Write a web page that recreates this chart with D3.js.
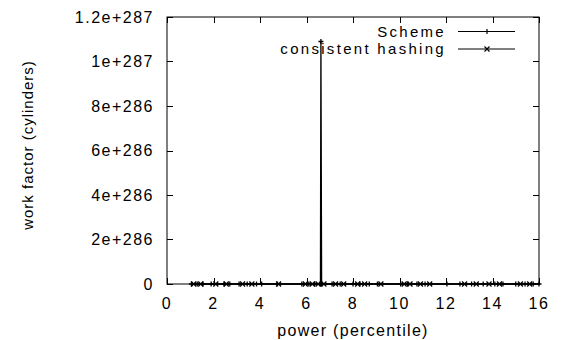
<!DOCTYPE html>
<html>
<head>
<meta charset="utf-8">
<script src="https://cdn.jsdelivr.net/npm/d3@7"></script>
<style>
  body { margin: 0; background: #fff; }
  text { font-family: "Liberation Sans", Arial, sans-serif; fill: #000; }
</style>
</head>
<body>
<svg id="chart" width="563" height="340"></svg>
<script>
// values
const xTicks = [0, 2, 4, 6, 8, 10, 12, 14, 16];
const yTicks = [0, 2e286, 4e286, 6e286, 8e286, 1e287, 1.2e287];

const schemeX = [1.05, 1.3, 1.55, 1.9, 2.45, 2.7, 3.1, 3.45, 3.85, 4.07, 4.75, 5.8, 6.1, 6.35, 6.6, 6.62, 6.65,
  7.1, 7.45, 8.0, 8.3, 8.7, 9.05, 10.05, 10.35, 10.75, 11.1, 12.04, 12.6, 13.1, 13.6, 14.1, 14.45, 15.0, 15.4, 15.75, 16.0];
const schemeY = [0, 0, 0, 0, 0, 0, 0, 0, 0, 0, 0, 0, 0, 0, 0, 1.09e287, 0,
  0, 0, 0, 0, 0, 0, 0, 0, 0, 0, 0, 0, 0, 0, 0, 0, 0, 0, 0, 0];

const hashX = [1.15, 1.45, 2.1, 2.55, 3.25, 3.65, 4.8, 5.95, 6.25, 6.5, 6.75, 7.25, 7.6, 8.2, 8.5, 9.2,
  10.2, 10.45, 10.9, 11.3, 12.8, 13.3, 13.85, 14.3, 15.2, 15.6];
const hashY = [0, 0, 0, 0, 0, 0, 0, 0, 0, 0, 0, 0, 0, 0, 0, 0,
  0, 0, 0, 0, 0, 0, 0, 0, 0, 0];

const seriesNames = ["Scheme", "consistent hashing"];

const svg = d3.select("#chart");
const margin = {top: 17, right: 24, bottom: 56, left: 167};
const W = 563, H = 340;
const iw = W - margin.left - margin.right, ih = H - margin.top - margin.bottom;

const x = d3.scaleLinear().domain([0, 16]).range([0, iw]);
const y = d3.scaleLinear().domain([0, 1.2e287]).range([ih, 0]);

const g = svg.append("g").attr("transform", `translate(${margin.left},${margin.top})`);

const fmt = v => v === 0 ? "0" : v.toExponential();
const tickLen = 6;

// frame
g.append("rect").attr("width", iw).attr("height", ih)
  .attr("fill", "none").attr("stroke", "#000").attr("stroke-width", 1);

// ticks, mirrored inward on all four sides
xTicks.forEach(t => {
  const px = Math.round(x(t)) + 0.5;
  g.append("line").attr("x1", px).attr("x2", px).attr("y1", ih).attr("y2", ih - tickLen).attr("stroke", "#000");
  g.append("line").attr("x1", px).attr("x2", px).attr("y1", 0).attr("y2", tickLen).attr("stroke", "#000");
  g.append("text").attr("x", x(t)).attr("y", ih + 19)
    .attr("text-anchor", "middle").attr("dominant-baseline", "central")
    .style("font-size", "16px").style("letter-spacing", "1.5px").text(t);
});
yTicks.forEach(t => {
  const py = Math.round(y(t)) + 0.5;
  g.append("line").attr("x1", 0).attr("x2", tickLen).attr("y1", py).attr("y2", py).attr("stroke", "#000");
  g.append("line").attr("x1", iw).attr("x2", iw - tickLen).attr("y1", py).attr("y2", py).attr("stroke", "#000");
  g.append("text").attr("x", -13).attr("y", y(t))
    .attr("text-anchor", "end").attr("dominant-baseline", "central")
    .style("font-size", "16px").style("letter-spacing", "1.5px").text(fmt(t));
});

// axis titles
svg.append("text").attr("x", 353).attr("y", 330)
  .attr("text-anchor", "middle").attr("dominant-baseline", "central")
  .style("font-size", "16px").style("letter-spacing", "1.3px").text("power (percentile)");
svg.append("text").attr("transform", "translate(27,145) rotate(-90)")
  .attr("text-anchor", "middle").attr("dominant-baseline", "central")
  .style("font-size", "15px").style("letter-spacing", "1px").text("work factor (cylinders)");

// point markers
const plus = s => `M${-s},0H${s}M0,${-s}V${s}`;
const cross = s => `M${-s},${-s}L${s},${s}M${-s},${s}L${s},${-s}`;

const line = d3.line().x(d => x(d[0])).y(d => y(d[1]));

function drawSeries(xs, ys, marker) {
  const pts = xs.map((v, i) => [v, ys[i]]);
  g.append("path").datum(pts).attr("d", line)
    .attr("fill", "none").attr("stroke", "#000").attr("stroke-width", 1.3);
  g.selectAll(null).data(pts).enter().append("path")
    .attr("transform", d => `translate(${x(d[0])},${y(d[1])})`)
    .attr("d", marker(2.5)).attr("stroke", "#000").attr("stroke-width", 1.3).attr("fill", "none");
}
drawSeries(hashX, hashY, cross);
drawSeries(schemeX, schemeY, plus);

// legend
const legendRows = [{name: seriesNames[0], marker: plus}, {name: seriesNames[1], marker: cross}];
legendRows.forEach((r, i) => {
  const ly = 14 + i * 17.5;
  g.append("text").attr("x", 279).attr("y", ly)
    .attr("text-anchor", "end").attr("dominant-baseline", "central")
    .style("font-size", "15px").style("letter-spacing", "2.3px").text(r.name);
  g.append("line").attr("x1", 291).attr("x2", 348).attr("y1", ly + 0.5).attr("y2", ly + 0.5)
    .attr("stroke", "#000").attr("stroke-width", 1.2);
  g.append("path").attr("transform", `translate(320,${ly + 0.5})`)
    .attr("d", r.marker(2.5)).attr("stroke", "#000").attr("stroke-width", 1.2).attr("fill", "none");
});
</script>
</body>
</html>
